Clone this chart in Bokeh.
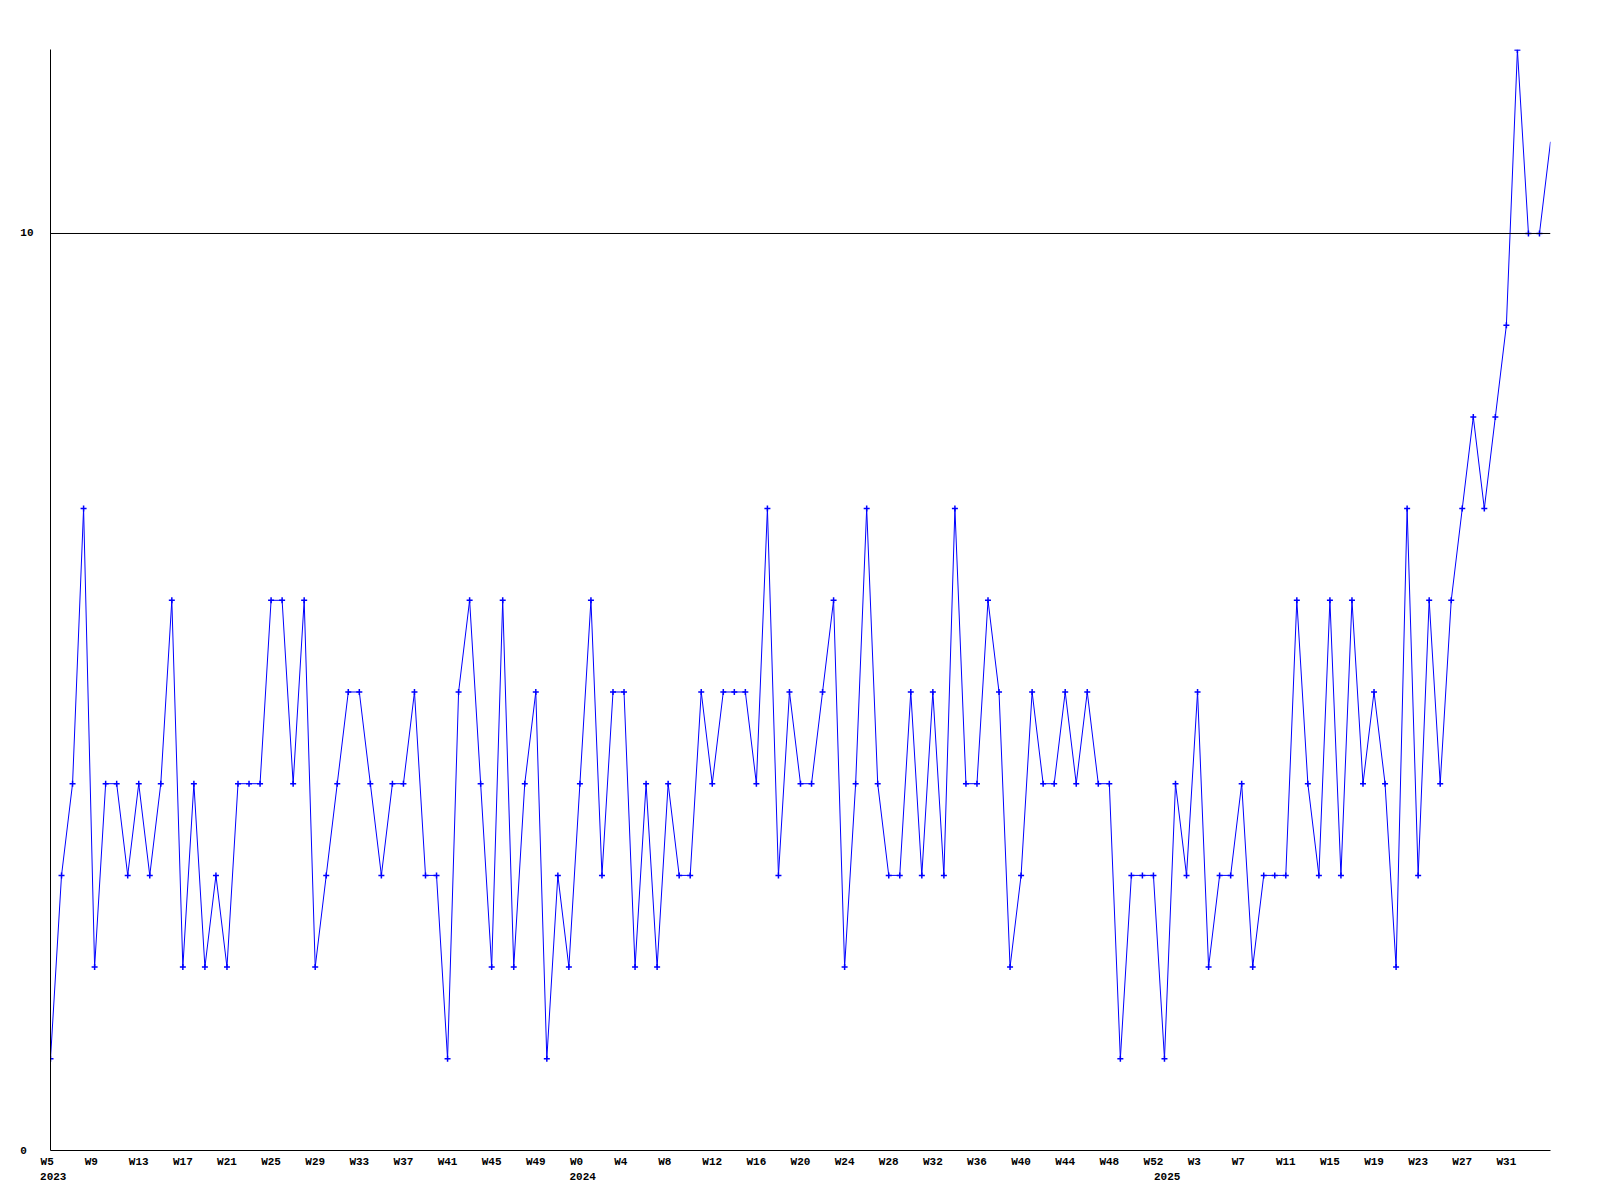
from bokeh.plotting import figure
from bokeh.models import Range1d, FixedTicker, Span, LinearAxis
from bokeh.embed import file_html
from bokeh.resources import INLINE

# Weekly values
values_2023 = [1, 3, 4, 7, 2, 4, 4, 3, 4, 3,
               4, 6, 2, 4, 2, 3, 2, 4, 4, 4,
               6, 6, 4, 6, 2, 3, 4, 5, 5, 4,
               3, 4, 4, 5, 3, 3, 1, 5, 6, 4,
               2, 6, 2, 4, 5, 1, 3, 2]          # W5 .. W52
values_2024 = [4, 6, 3, 5, 5, 2, 4, 2, 4, 3,
               3, 5, 4, 5, 5, 5, 4, 7, 3, 5,
               4, 4, 5, 6, 2, 4, 7, 4, 3, 3,
               5, 3, 5, 3, 7, 4, 4, 6, 5, 2,
               3, 5, 4, 4, 5, 4, 5, 4, 4, 1,
               3, 3, 3]                          # W0 .. W52
values_2025 = [1, 4, 3, 5, 2, 3, 3, 4, 2, 3,
               3, 3, 6, 4, 3, 6, 3, 6, 4, 5,
               4, 2, 7, 3, 6, 4, 6, 7, 8, 7,
               8, 9, 12, 10, 10, 11]             # W0 .. W35

years = ["2023", "2024", "2025"]
first_week = [5, 0, 0]
year_values = [values_2023, values_2024, values_2025]

y_ticks = [0, 10]
y_tick_labels = {0: "0\u00a0", 10: "10"}
ref_line = 10

# Build point index and week labels
values = []
week_labels = []
year_start_idx = []
for yr, fw, vals in zip(years, first_week, year_values):
    year_start_idx.append(len(values))
    for k, v in enumerate(vals):
        values.append(v)
        week_labels.append("W%d" % (fw + k))
xs = list(range(len(values)))

tick_idx = [i for i in xs[::4] if i <= len(values) - 4]
# labels are left-aligned just before the tick: pad to equal width
overrides = {i: week_labels[i].ljust(3, "\u00a0") for i in tick_idx}

FONT = "Liberation Mono"
FSIZE = "11px"

p = figure(width=1584, height=1200, output_backend="svg", toolbar_location=None,
           x_range=Range1d(0, len(values) - 1), y_range=Range1d(0, 12.0065),
           min_border_left=50, min_border_right=34, min_border_top=49, min_border_bottom=50)
p.background_fill_color = "white"
p.border_fill_color = "white"
p.outline_line_color = None
p.xgrid.visible = False
p.ygrid.visible = False

def style_axis(ax):
    ax.major_tick_line_color = None
    ax.minor_tick_line_color = None
    ax.major_tick_out = 0
    ax.major_tick_in = 0
    ax.minor_tick_out = 0
    ax.minor_tick_in = 0
    ax.major_label_text_font = FONT
    ax.major_label_text_font_style = "bold"
    ax.major_label_text_font_size = FSIZE
    ax.major_label_text_color = "black"

xa = p.xaxis[0]
xa.ticker = FixedTicker(ticks=tick_idx)
xa.major_label_overrides = overrides
xa.major_label_standoff = 5
xa.axis_line_color = "black"
style_axis(xa)

# second row of x labels: the year under the first week of each year
year_pos = [i + 0.25 for i in year_start_idx]
year_axis = LinearAxis(ticker=FixedTicker(ticks=year_pos),
                       major_label_overrides={pos: y for pos, y in zip(year_pos, years)},
                       axis_line_color=None, major_label_standoff=2)
style_axis(year_axis)
p.add_layout(year_axis, "below")

ya = p.yaxis[0]
ya.ticker = FixedTicker(ticks=y_ticks)
ya.major_label_overrides = y_tick_labels
ya.major_label_standoff = 17
ya.axis_line_color = "black"
style_axis(ya)

p.add_layout(Span(location=ref_line, dimension="width", line_color="black", line_width=1))

p.line(xs, values, line_color="#0000ff", line_width=1)
p.scatter(xs[:-1], values[:-1], marker="cross", size=6, line_color="#0000ff", line_width=1.5)

open("out.html", "w").write(file_html(p, INLINE))
